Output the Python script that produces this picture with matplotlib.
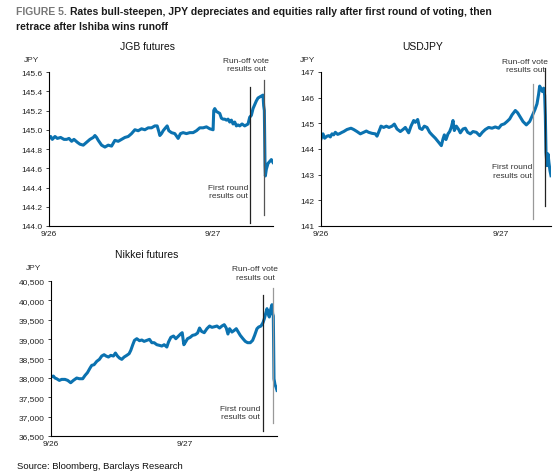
import numpy as np
import matplotlib
matplotlib.use('Agg')
import matplotlib.pyplot as plt
from matplotlib.ticker import FuncFormatter, FormatStrFormatter

plt.rcParams['font.family'] = ['Liberation Sans Narrow', 'Liberation Sans', 'DejaVu Sans']
plt.rcParams['font.size'] = 6

line_color = '#0b72b0'

# JGB futures (time index, price)
jgb_t = [0, 5, 10, 18, 25, 35, 45, 53, 60, 68, 75, 85, 93, 103, 113, 123, 133, 138, 143, 148,
         158, 168, 178, 188, 198, 208, 218, 228, 238, 248, 258, 268, 278, 288, 298, 308, 318, 325,
         330, 333, 338, 343, 350, 355, 360, 368, 378, 388, 395, 403, 413, 423, 433, 443, 453, 463,
         473, 483, 493, 495, 498, 503, 508, 513, 518, 523, 528, 533, 538, 543, 548, 553, 558, 563,
         568, 573, 580, 588, 598, 603, 608, 613, 618, 623, 628, 633, 638, 643, 645, 647, 649, 650,
         653, 658, 663, 668, 673]
jgb_v = [144.91, 144.93, 144.90, 144.93, 144.91, 144.92, 144.90, 144.90, 144.91, 144.88, 144.90,
         144.87, 144.85, 144.84, 144.87, 144.90, 144.92, 144.94, 144.92, 144.89, 144.84, 144.82,
         144.84, 144.83, 144.89, 144.88, 144.90, 144.92, 144.93, 144.96, 145.00, 144.99, 145.01,
         145.00, 145.02, 145.02, 145.04, 145.04, 144.98, 144.94, 144.96, 144.99, 145.02, 145.04,
         144.99, 144.97, 144.96, 144.91, 144.96, 144.97, 144.96, 144.97, 144.97, 144.99, 145.02,
         145.02, 145.03, 145.01, 145.00, 145.20, 145.22, 145.19, 145.18, 145.17, 145.12, 145.11,
         145.11, 145.10, 145.11, 145.08, 145.10, 145.06, 145.08, 145.04, 145.05, 145.04, 145.06,
         145.04, 145.06, 145.13, 145.15, 145.22, 145.26, 145.30, 145.33, 145.34, 145.35, 145.36,
         145.25, 145.20, 144.63, 144.52, 144.59, 144.65, 144.67, 144.69, 144.66]

# USDJPY
usd_t = [0, 6, 11, 18, 23, 28, 33, 38, 43, 50, 56, 63, 68, 78, 90, 98, 108, 118, 128, 136, 143,
         153, 163, 168, 175, 180, 188, 196, 204, 213, 220, 228, 238, 246, 253, 263, 270, 278, 283,
         290, 296, 303, 310, 318, 326, 333, 343, 353, 361, 366, 370, 375, 381, 386, 391, 396, 400,
         406, 413, 418, 426, 433, 440, 448, 456, 466, 476, 484, 493, 503, 513, 523, 533, 541, 550,
         558, 566, 573, 583, 590, 598, 606, 616, 626, 635, 642, 648, 653, 656, 660, 664, 668, 671,
         673, 675, 678, 681, 684, 687, 690]
usd_v = [144.39, 144.59, 144.42, 144.50, 144.52, 144.47, 144.59, 144.55, 144.65, 144.57, 144.60,
         144.65, 144.68, 144.76, 144.81, 144.76, 144.68, 144.59, 144.65, 144.70, 144.65, 144.61,
         144.59, 144.50, 144.72, 144.89, 144.84, 144.89, 144.84, 144.89, 144.97, 144.78, 144.68,
         144.76, 144.84, 144.63, 144.89, 145.11, 145.04, 145.15, 144.81, 144.76, 144.89, 144.84,
         144.65, 144.55, 144.42, 144.26, 144.13, 144.39, 144.55, 144.37, 144.59, 144.68, 144.85,
         145.11, 144.72, 144.89, 144.76, 144.63, 144.78, 144.81, 144.65, 144.59, 144.68, 144.65,
         144.52, 144.65, 144.76, 144.84, 144.81, 144.86, 144.81, 144.94, 144.98, 145.07, 145.17,
         145.33, 145.50, 145.41, 145.24, 145.07, 144.94, 145.07, 145.33, 145.54, 145.76, 146.15,
         146.45, 146.35, 146.24, 146.37, 146.09, 145.30, 143.87, 143.35, 143.81, 143.45, 143.15,
         142.96]

# Nikkei futures
nky_t = [0, 7, 12, 17, 25, 32, 42, 50, 59, 67, 77, 85, 95, 102, 109, 117, 122, 129, 137, 145,
         152, 159, 165, 172, 179, 187, 193, 199, 205, 212, 219, 227, 234, 239, 245, 250, 257, 265,
         272, 279, 287, 295, 302, 309, 317, 325, 332, 339, 347, 352, 359, 367, 374, 382, 388, 393,
         398, 403, 409, 417, 424, 432, 439, 445, 451, 459, 467, 475, 482, 490, 497, 505, 512, 519,
         525, 530, 535, 542, 549, 555, 561, 567, 575, 582, 589, 597, 604, 610, 617, 622, 629, 635,
         639, 643, 647, 650, 654, 658, 662, 664, 666, 668, 671, 674, 677]
nky_v = [38021, 38047, 37996, 37978, 37935, 37961, 37961, 37935, 37875, 37935, 37996, 37978,
         37978, 38064, 38133, 38254, 38323, 38340, 38426, 38478, 38564, 38598, 38564, 38538,
         38581, 38564, 38641, 38564, 38512, 38478, 38538, 38581, 38624, 38710, 38856, 38968,
         39011, 38960, 38977, 38942, 38968, 38994, 38908, 38908, 38856, 38839, 38822, 38856,
         38796, 38925, 39046, 39080, 39011, 39080, 39132, 39166, 38856, 38925, 39011, 39046,
         39097, 39114, 39157, 39287, 39200, 39166, 39269, 39338, 39304, 39321, 39338, 39287,
         39338, 39373, 39287, 39132, 39269, 39183, 39226, 39269, 39183, 39097, 39011, 38942,
         38908, 38908, 38968, 39097, 39269, 39312, 39338, 39424, 39527, 39657, 39786, 39657,
         39571, 39768, 39889, 39657, 39596, 37978, 37823, 37763, 37677]

fig = plt.figure(figsize=(5.6, 4.77), dpi=100)
W, H = 560, 477


def px_axes(l, t, r, b):
    return fig.add_axes([l / W, 1 - b / H, (r - l) / W, (b - t) / H])


def style(ax, tmax, tick27, ylim, yticks, fmt):
    ax.set_xlim(0, tmax)
    ax.set_ylim(*ylim)
    ax.set_yticks(yticks)
    ax.yaxis.set_major_formatter(fmt)
    ax.set_xticks([0, tick27])
    ax.set_xticklabels(['9/26', '9/27'])
    for s in ['top', 'right']:
        ax.spines[s].set_visible(False)
    for s in ['left', 'bottom']:
        ax.spines[s].set_linewidth(0.8)
    ax.tick_params(axis='y', length=2.2, width=0.6, pad=2.5, labelsize=6, colors='#222222')
    ax.tick_params(axis='x', length=0, pad=3, labelsize=6, colors='#222222')


def event_lines(ax, x1, y1, c1, x2, y2, c2):
    ax.plot([x1, x1], y1, color=c1, lw=0.9, clip_on=False, zorder=4)
    ax.plot([x2, x2], y2, color=c2, lw=0.9, clip_on=False, zorder=4)


ann = dict(ha='center', va='center', fontsize=6, color='#333333', linespacing=1.3)

# JGB
ax1 = px_axes(49, 73, 273, 227)
ax1.plot(jgb_t, jgb_v, color=line_color, lw=2.2, solid_joinstyle='round')
style(ax1, 673, 493, (144.0, 145.6), np.arange(144.0, 145.61, 0.2), FormatStrFormatter('%.1f'))
event_lines(ax1, 603, [144.03, 145.44], '#222222', 646, [144.11, 145.52], '#555555')
ax1.text(593, 145.68, 'Run-off vote\nresults out', clip_on=False, **ann)
ax1.text(539, 144.36, 'First round\nresults out', **ann)

# USDJPY
ax2 = px_axes(321, 73, 551, 227)
ax2.plot(usd_t, usd_v, color=line_color, lw=2.2, solid_joinstyle='round')
style(ax2, 690, 538, (141, 147), np.arange(141, 147.1, 1), FormatStrFormatter('%d'))
event_lines(ax2, 635, [141.26, 146.54], '#999999', 671, [141.78, 147.16], '#222222')
ax2.text(612, 147.26, 'Run-off vote\nresults out', clip_on=False, **ann)
ax2.text(575, 143.14, 'First round\nresults out', **ann)

# Nikkei
ax3 = px_axes(51, 282, 277, 437)
ax3.plot(nky_t, nky_v, color=line_color, lw=2.2, solid_joinstyle='round')
style(ax3, 677, 402, (36500, 40500), np.arange(36500, 40501, 500),
      FuncFormatter(lambda v, p: f'{v:,.0f}'))
event_lines(ax3, 634, [36627, 40130], '#222222', 665, [36842, 40319], '#999999')
ax3.text(612, 40707, 'Run-off vote\nresults out', clip_on=False, **ann)
ax3.text(567, 37109, 'First round\nresults out', **ann)

# panel titles and units
for x, y, s in [(147, 47, 'JGB futures'), (423, 47, 'USDJPY'), (147, 255, 'Nikkei futures')]:
    fig.text(x / W, 1 - y / H, s, ha='center', va='center', fontsize=7.5, color='#111111')
for x, y in [(32, 61), (308, 61), (34, 268)]:
    fig.text(x / W, 1 - y / H, 'JPY', ha='center', va='center', fontsize=6, color='#333333')

# figure title
t1 = fig.text(16 / W, 1 - 12 / H, 'FIGURE 5.', ha='left', va='center', fontsize=7.5,
              color='#777777', fontweight='bold')
fig.canvas.draw()
bb = t1.get_window_extent()
fig.text((bb.x1 + 3) / W, 1 - 12 / H,
         'Rates bull-steepen, JPY depreciates and equities rally after first round of voting, then',
         ha='left', va='center', fontsize=7.5, color='#1a1a1a', fontweight='bold')
fig.text(16 / W, 1 - 27 / H, 'retrace after Ishiba wins runoff', ha='left', va='center',
         fontsize=7.5, color='#1a1a1a', fontweight='bold')

fig.text(17 / W, 1 - 467 / H, 'Source: Bloomberg, Barclays Research', ha='left', va='center',
         fontsize=6.8, color='#111111')

plt.savefig('out.png', dpi=100)
